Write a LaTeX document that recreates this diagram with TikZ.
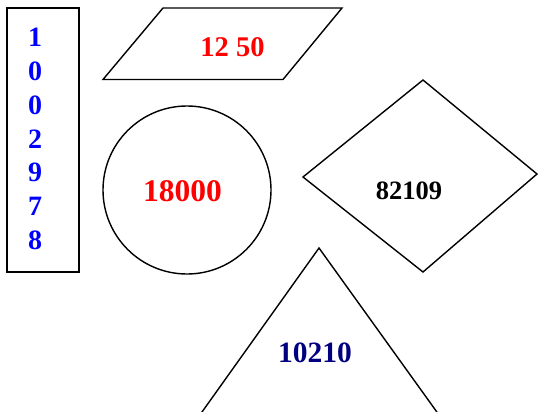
\documentclass[tikz,border=0pt]{standalone}
\usepackage{fontspec}
\setmainfont{Liberation Serif}
\definecolor{navytext}{RGB}{0,0,128}
\begin{document}
\begin{tikzpicture}[x=1pt,y=-1pt,
  shape line/.style={draw=black,line width=1.4pt,line join=miter},
  numtext/.style={font=\bfseries,inner sep=0pt,anchor=center}]
\useasboundingbox (0,0) rectangle (538,412);
\clip (0,0) rectangle (538,412);
% rectangle with vertical digits
\draw[shape line] (7,8) rectangle (79,272);
\node[numtext,text=blue,align=center,font=\fontsize{28}{33.8}\selectfont\bfseries] (vert) at (35,139) {1\\0\\0\\2\\9\\7\\8};
% parallelogram
\draw[shape line] (163,8) -- (342,8) -- (283,79.5) -- (103,79.5) -- cycle;
\node[numtext,text=red,font=\fontsize{28.5}{30}\selectfont\bfseries] (para) at (232.5,47.5) {12 50};
% circle
\draw[shape line] (187,190) circle (84);
\node[numtext,text=red,font=\fontsize{31.5}{33}\selectfont\bfseries] (circ) at (182.5,191.5) {18000};
% diamond
\draw[shape line] (423,80) -- (537,174) -- (423,272) -- (303,177) -- cycle;
\node[numtext,text=black,font=\fontsize{26.5}{28}\selectfont\bfseries] (diam) at (409,191) {82109};
% triangle (base lies below the visible area)
\draw[shape line] (319,248) -- (457,440) -- (182,440) -- cycle;
\node[numtext,text=navytext,font=\fontsize{29.5}{31}\selectfont\bfseries] (tri) at (315,352.5) {10210};
\end{tikzpicture}
\end{document}
